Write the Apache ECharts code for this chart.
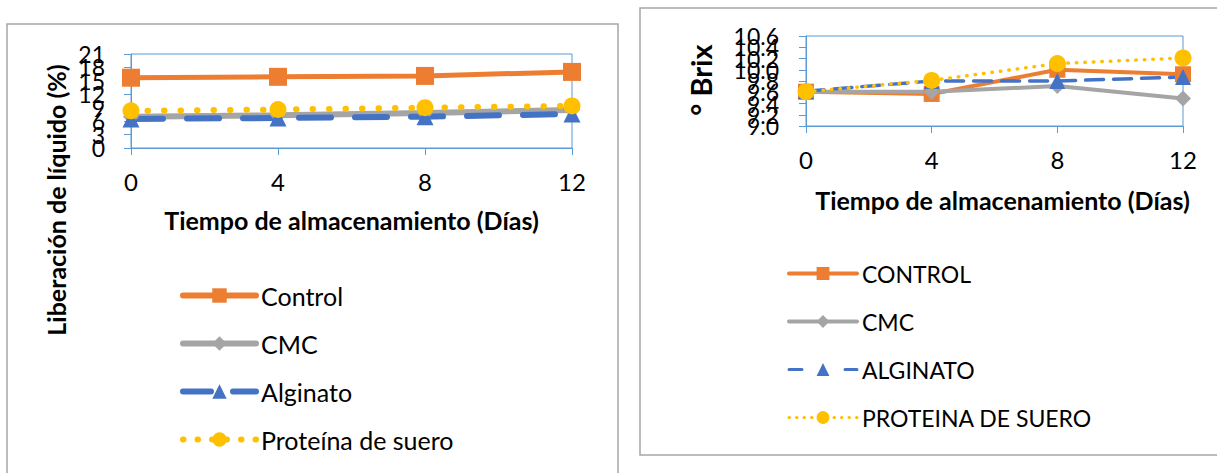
<!DOCTYPE html>
<html><head><meta charset="utf-8">
<script src="https://cdn.jsdelivr.net/npm/echarts@6/dist/echarts.min.js"></script>
<style>html,body{margin:0;padding:0;background:#fff}#c{width:1217px;height:473px}</style>
</head><body><div id="c"></div>
<script>
const days = ['0', '4', '8', '12'];
// Left chart: Liberación de líquido (%)
const libControl = [15.7, 15.9, 16.1, 17.0];
const libCMC = [7.0, 7.3, 7.8, 8.5];
const libAlginato = [6.5, 6.7, 7.0, 7.6];
const libProteina = [8.3, 8.6, 9.0, 9.4];
// Right chart: ° Brix
const brixControl = [9.61, 9.57, 10.0, 9.92];
const brixCMC = [9.61, 9.61, 9.71, 9.49];
const brixAlginato = [9.62, 9.80, 9.80, 9.87];
const brixProteina = [9.61, 9.81, 10.11, 10.21];

const leftNames = ['Control', 'CMC', 'Alginato', 'Proteína de suero'];
const rightNames = ['CONTROL', 'CMC ', 'ALGINATO', 'PROTEINA DE SUERO'];

const FONT = 'Lato';
const AX = '#5B9BD5';
const ORANGE = '#ED7D31', GRAY = '#A5A5A5', BLUE = '#4472C4', YELLOW = '#FFC000';

const chart = echarts.init(document.getElementById('c'), null, {renderer: 'svg'});

function xAxis(gridIndex, margin, gap, pad) {
  return {
    type: 'category', gridIndex, data: days, boundaryGap: false,
    name: 'Tiempo de almacenamiento (Días)', nameLocation: 'middle', nameGap: gap,
    nameTextStyle: {fontFamily: FONT, fontWeight: 'bold', fontSize: 25, color: '#000', padding: pad},
    axisLine: {lineStyle: {color: AX, width: 1}},
    axisTick: {show: true, length: 7, lineStyle: {color: AX}},
    axisLabel: {fontFamily: FONT, fontSize: 24, color: '#000', margin, hideOverlap: false,
      showMinLabel: true, showMaxLabel: true, interval: 0},
    splitLine: {show: false}
  };
}
// Tick labels overlap in the reference; split them over 3 stacked left axes so none is dropped.
function yAxes(gridIndex, min, max, interval, decimals, margin) {
  const out = [];
  for (let k = 0; k < 3; k++) {
    out.push({
      type: 'value', gridIndex, min, max, interval, position: 'left', offset: 0,
      axisLine: {show: k === 0, onZero: false, lineStyle: {color: AX, width: 1}},
      axisTick: {show: k === 0, length: 7, lineStyle: {color: AX}},
      axisLabel: {fontFamily: FONT, fontSize: 23, color: '#000', margin, hideOverlap: false,
        showMinLabel: true, showMaxLabel: true,
        formatter: v => {
          const i = Math.round((v - min) / interval);
          if (i % 3 !== k) return '';
          return decimals ? v.toFixed(decimals) : String(Math.round(v));
        }},
      splitLine: {show: false}
    });
  }
  return out;
}
const styles = {
  lc: [ORANGE, 'rect', 18, 5, 'solid'],
  lg: [GRAY, 'diamond', 16, 6, 'solid'],
  lb: [BLUE, 'triangle', 17, 6, [32, 24]],
  ly: [YELLOW, 'circle', 17, 6, [0.5, 16]],
  rc: [ORANGE, 'rect', 16, 4, 'solid'],
  rg: [GRAY, 'diamond', 16, 4, 'solid'],
  rb: [BLUE, 'triangle', 16, 3.5, [18, 10]],
  ry: [YELLOW, 'circle', 17, 3.5, [0.5, 8]]
};
function line(name, xi, yi, data, st) {
  const [color, symbol, size, width, type] = st;
  return {
    name, type: 'line', xAxisIndex: xi, yAxisIndex: yi, data,
    symbol, symbolSize: size, showSymbol: true,
    lineStyle: {color, width, type, cap: 'round'},
    itemStyle: {color, borderWidth: 0},
    emphasis: {disabled: true}, animation: false
  };
}
function legItem(name, st, lw, dash) {
  return {name, lineStyle: {color: st[0], width: lw, type: dash || st[4], cap: 'round'},
    itemStyle: {color: st[0], borderWidth: 0}};
}

chart.setOption({
  animation: false,
  graphic: [
    {type: 'rect', shape: {x: 7, y: 24, width: 611, height: 470}, style: {fill: 'none', stroke: '#A6A6A6', lineWidth: 1.5}},
    {type: 'rect', shape: {x: 640, y: 8, width: 620, height: 447}, style: {fill: 'none', stroke: '#A6A6A6', lineWidth: 1.5}},
    {type: 'text', x: 56, y: 200, rotation: Math.PI / 2,
      style: {text: 'Liberación de líquido (%)', fontFamily: FONT, fontWeight: 'bold', fontSize: 25, fill: '#000', align: 'center', verticalAlign: 'middle'}},
    {type: 'text', x: 700, y: 80, rotation: Math.PI / 2,
      style: {text: '° Brix', fontFamily: FONT, fontWeight: 'bold', fontSize: 29, fill: '#000', align: 'center', verticalAlign: 'middle'}}
  ],
  grid: [
    {left: 131, top: 54, width: 441, height: 94, show: true, borderColor: AX, borderWidth: 1, backgroundColor: 'transparent'},
    {left: 806, top: 36, width: 377, height: 90, show: true, borderColor: AX, borderWidth: 1, backgroundColor: 'transparent'}
  ],
  xAxis: [xAxis(0, 21, 59, [0, 0, 0, 0]), xAxis(1, 21, 61, [0, 0, 0, 16])],
  yAxis: [...yAxes(0, 0, 21, 3, 0, 26), ...yAxes(1, 9.0, 10.6, 0.2, 1, 27)],
  legend: [
    {data: [legItem(leftNames[0], styles.lc, 6), legItem(leftNames[1], styles.lg, 6),
            legItem(leftNames[2], styles.lb, 6, [28, 22]), legItem(leftNames[3], styles.ly, 6, [0.5, 14])],
      orient: 'vertical', left: 175, top: 278, itemWidth: 73, itemHeight: 18, itemGap: 23,
      textStyle: {fontFamily: FONT, fontSize: 25, color: '#000'}, selectedMode: false},
    {data: [legItem(rightNames[0], styles.rc, 4), legItem(rightNames[1], styles.rg, 4),
            legItem(rightNames[2], styles.rb, 3, [13, 43]), legItem(rightNames[3], styles.ry, 3, [0.5, 7])],
      orient: 'vertical', left: 782, top: 257, itemWidth: 68, itemHeight: 16, itemGap: 25,
      textStyle: {fontFamily: FONT, fontSize: 23, color: '#000'}, selectedMode: false}
  ],
  series: [
    line(leftNames[0], 0, 0, libControl, styles.lc),
    line(leftNames[1], 0, 0, libCMC, styles.lg),
    line(leftNames[2], 0, 0, libAlginato, styles.lb),
    line(leftNames[3], 0, 0, libProteina, styles.ly),
    line(rightNames[0], 1, 3, brixControl, styles.rc),
    line(rightNames[1], 1, 3, brixCMC, styles.rg),
    line(rightNames[2], 1, 3, brixAlginato, styles.rb),
    line(rightNames[3], 1, 3, brixProteina, styles.ry)
  ]
});
</script></body></html>
